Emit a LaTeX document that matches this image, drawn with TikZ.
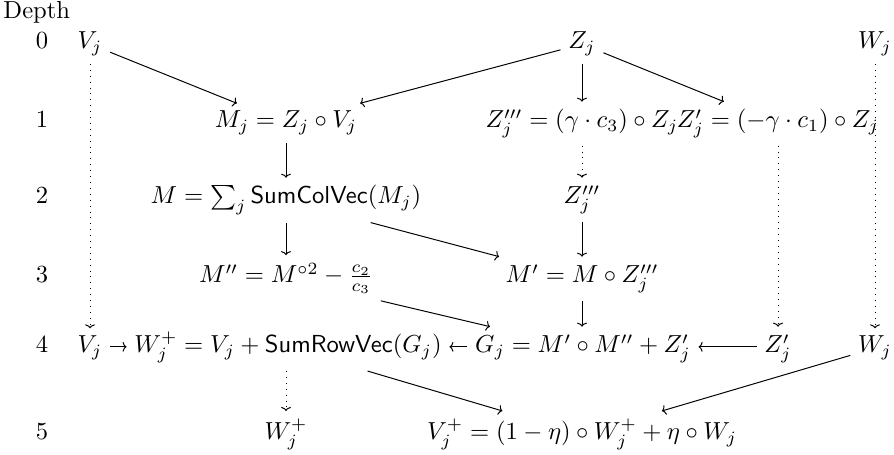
\documentclass[tikz,border=0pt]{standalone}
\usepackage{amsmath,amssymb}
\usetikzlibrary{arrows.meta}

\tikzset{
  cell/.style={anchor=base,inner sep=3pt},
  flow/.style={-{To[length=1.6pt,width=4pt]}},
  carry/.style={-{To[length=1.6pt,width=4pt]},dotted},
}

\begin{document}
\begin{tikzpicture}[x=0.4065pt,y=-0.4065pt]
    \useasboundingbox (0,0) rectangle (894,455);
    % depth labels
    \node[anchor=base west,inner sep=0pt] (hdr) at (3,19) {Depth};
    \node[cell] (d0) at (42,49) {0};
    \node[cell] (d1) at (42,128) {1};
    \node[cell] (d2) at (42,204) {2};
    \node[cell] (d3) at (42,283) {3};
    \node[cell] (d4) at (42,353) {4};
    \node[cell] (d5) at (42,440) {5};
    % depth 0
    \node[cell] (vj0) at (90,49) {$V_j$};
    \node[cell] (zj0) at (582,49) {$Z_j$};
    \node[cell] (wj0) at (875,49) {$W_j$};
    % depth 1
    \node[cell] (mj) at (286,128) {$M_j = Z_j \circ V_j$};
    \node[cell] (zt1) at (582,128) {$Z_j''' = (\gamma \cdot c_3) \circ Z_j$};
    \node[cell] (zp1) at (778,128) {$Z_j' = (-\gamma \cdot c_1) \circ Z_j$};
    % depth 2
    \node[cell] (m) at (286,204) {$M = \sum_j \mathsf{SumColVec}(M_j)$};
    \node[cell] (zt2) at (582,204) {$Z_j'''$};
    % depth 3
    \node[cell] (mpp) at (286,283) {$M'' = M^{\circ 2} - \frac{c_2}{c_3}$};
    \node[cell] (mp) at (582,283) {$M' = M \circ Z_j'''$};
    % depth 4
    \node[cell] (vj4) at (90,353) {$V_j$};
    \node[cell] (wplus) at (288,353) {$W_j^+ = V_j + \mathsf{SumRowVec}(G_j)$};
    \node[cell] (g) at (583,353) {$G_j = M' \circ M'' + Z_j'$};
    \node[cell] (zp4) at (778,353) {$Z_j'$};
    \node[cell] (wj4) at (875,353) {$W_j$};
    % depth 5
    \node[cell] (wplus5) at (286,440) {$W_j^+$};
    \node[cell] (vplus) at (582,440) {$V_j^+ = (1-\eta) \circ W_j^+ + \eta \circ W_j$};

    \draw[flow] (vj0) -- (mj);
    \draw[flow] (zj0) -- (mj);
    \draw[flow] (zj0) -- (zt1);
    \draw[flow] (zj0) -- (zp1);
    \draw[flow] (mj) -- (m);
    \draw[flow] (m) -- (mpp);
    \draw[flow] (m) -- (mp);
    \draw[flow] (zt2) -- (mp);
    \draw[flow] (mpp) -- (g);
    \draw[flow] (mp) -- (mp |- g.north);
    \draw[flow] ([yshift=2.5pt]vj4.base east) -- ([yshift=2.5pt]wplus.base west);
    \draw[flow] ([yshift=2.5pt]g.base west) -- ([yshift=2.5pt]wplus.base east);
    \draw[flow] ([yshift=2.5pt]zp4.base west) -- ([yshift=2.5pt]g.base east);
    \draw[flow] (wplus) -- (vplus);
    \draw[flow] (wj4) -- (vplus);
    \draw[carry] (vj0) -- (vj4);
    \draw[carry] (zt1) -- (zt2);
    \draw[carry] (zp1) -- (zp4);
    \draw[carry] (wj0) -- (wj4);
    \draw[carry] (wplus5 |- wplus.south) -- (wplus5);
\end{tikzpicture}
\end{document}
